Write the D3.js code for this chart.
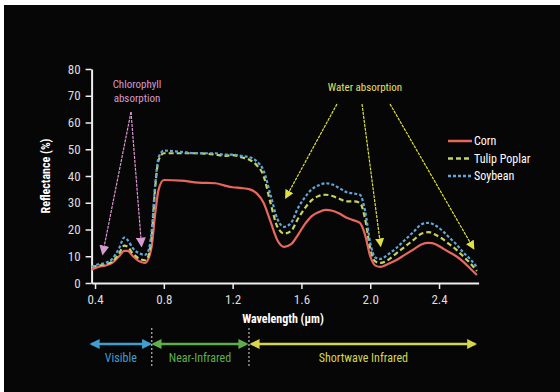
<!DOCTYPE html>
<html>
<head>
<meta charset="utf-8">
<script src="https://cdn.jsdelivr.net/npm/d3@7"></script>
<style>
  body { margin: 0; background: #fff; }
  svg text { font-family: "Liberation Sans Narrow", "Arial Narrow", "Roboto Condensed", "Liberation Sans", sans-serif; }
</style>
</head>
<body>
<svg id="chart" width="560" height="392"></svg>
<script>
// wavelength in µm, reflectance in %
const wavelength = [0.38,0.42,0.46,0.50,0.54,0.57,0.59,0.62,0.66,0.69,0.71,0.73,0.75,0.77,0.80,0.90,1.00,1.10,1.15,1.20,1.25,1.30,1.34,1.38,1.42,1.46,1.50,1.54,1.58,1.62,1.66,1.70,1.74,1.78,1.82,1.86,1.90,1.94,1.97,2.00,2.03,2.06,2.10,2.15,2.20,2.25,2.30,2.34,2.38,2.42,2.46,2.50,2.54,2.58,2.62];
const corn = [5,6,6.5,7.5,10,12,12,10,8,7.5,9,14,26,35,38.5,38.3,37.5,37.3,36.5,35.8,35.5,35,33.5,30,23,16,13.5,14.5,18,22,25,26.5,27.3,27,26,24.5,23.5,22.5,18,10,6.5,6,7,8.5,10.5,12.5,14.5,15,14.5,13,11.5,10,8,5.5,3];
const tulipPoplar = [6,6.5,7,8,11,14,13.5,11,9,8.5,10,18,36,46,48.5,48.5,48.5,48,47.5,47.8,47,46,44,40,30,21,18.5,19.5,24,28,31,32.5,33,32.5,31.5,30.5,30.5,30,24,13,8,7.5,8.5,11,13.5,16,18.5,19,18,16.5,14.5,12.5,10,7.5,4.5];
const soybean = [6,7,7.5,9,13,17,16,13,11,10.5,12,20,37,47,49.5,49,48.5,48.5,48,48,47.5,47,45.5,42,33,24,21,22.5,28,32,35,36.5,37.3,36.8,35.5,34,33.5,33,27,15,9.5,9,10.5,13,16,19,22,22.5,21.5,19.5,17,14.5,11.5,9,6];

const seriesNames = ["Corn", "Tulip Poplar", "Soybean"];
const xTicks = [0.4, 0.8, 1.2, 1.6, 2.0, 2.4];
const yTicks = [0, 10, 20, 30, 40, 50, 60, 70, 80];
const regions = [
  {name: "Visible", from: 0.38, to: 0.72},
  {name: "Near-Infrared", from: 0.74, to: 1.28},
  {name: "Shortwave Infrared", from: 1.31, to: 2.61}
];
const regionBounds = [0.73, 1.295];

const colors = {"Corn": "#e8675f", "Tulip Poplar": "#c5d45e", "Soybean": "#62a6d8"};
const dashes = {"Corn": null, "Tulip Poplar": "5,3", "Soybean": "3,2"};
const regionColors = ["#3f9fcf", "#5fae4a", "#d6d64a"];

const svg = d3.select("#chart");
svg.append("rect").attr("x", 4).attr("y", 5).attr("width", 556).attr("height", 387).attr("fill", "#060606");

const x = d3.scaleLinear().domain([0.38, 2.63]).range([91.6, 478.6]);
const y = d3.scaleLinear().domain([0, 80]).range([283, 69]);

// axes
const gx = svg.append("g").attr("transform", `translate(0,${y(0)})`)
  .call(d3.axisBottom(x).tickValues(xTicks).tickFormat(d3.format(".1f")).tickSize(6).tickSizeOuter(0));
const gy = svg.append("g").attr("transform", `translate(${x(0.38)},0)`)
  .call(d3.axisLeft(y).tickValues(yTicks).tickSize(6).tickSizeOuter(0));
[gx, gy].forEach(g => {
  g.select(".domain").attr("stroke", "#eee").attr("stroke-width", 2);
  g.selectAll(".tick line").attr("stroke", "#eee").attr("stroke-width", 1.5);
  g.selectAll(".tick text").attr("fill", "#ddd").style("font-size", "13px");
});
gx.selectAll(".tick text").attr("dy", "0.9em");
gy.selectAll(".tick text").attr("dx", "-2");

svg.append("text").attr("x", 283).attr("y", 323).attr("text-anchor", "middle")
  .attr("fill", "#fff").style("font-size", "12px").style("font-weight", "bold").text("Wavelength (µm)");
svg.append("text").attr("transform", "translate(50,176) rotate(-90)").attr("text-anchor", "middle")
  .attr("fill", "#fff").style("font-size", "12px").style("font-weight", "bold").text("Reflectance (%)");

// arrowheads
const defs = svg.append("defs");
function marker(id, color, size) {
  defs.append("marker").attr("id", id).attr("viewBox", "0 0 10 10").attr("refX", 8).attr("refY", 5)
    .attr("markerUnits", "userSpaceOnUse")
    .attr("markerWidth", size).attr("markerHeight", size).attr("orient", "auto-start-reverse")
    .append("path").attr("d", "M0,0L10,5L0,10Z").attr("fill", color);
}
marker("pink", "#d89ad0", 10);
marker("yel", "#e0e040", 9);
regionColors.forEach((c, i) => marker("reg" + i, c, 10));

// curves
const lineData = {"Corn": corn, "Tulip Poplar": tulipPoplar, "Soybean": soybean};
const line = d3.line().x(d => x(d[0])).y(d => y(d[1])).curve(d3.curveMonotoneX);
seriesNames.forEach(name => {
  const pts = wavelength.map((w, i) => [w, lineData[name][i]]);
  svg.append("path").datum(pts).attr("d", line).attr("fill", "none")
    .attr("stroke", colors[name]).attr("stroke-width", 2.2)
    .attr("stroke-dasharray", dashes[name]);
});

// annotations
svg.append("text").attr("x", 137).attr("y", 88).attr("text-anchor", "middle").attr("fill", "#d89ad0")
  .style("font-size", "11px").text("Chlorophyll");
svg.append("text").attr("x", 137).attr("y", 102).attr("text-anchor", "middle").attr("fill", "#d89ad0")
  .style("font-size", "11px").text("absorption");
[[0.445, 11], [0.67, 14]].forEach(([w, v]) => {
  svg.append("line").attr("x1", 131).attr("y1", 112).attr("x2", x(w)).attr("y2", y(v))
    .attr("stroke", "#d89ad0").attr("stroke-width", 1.2).attr("stroke-dasharray", "3,1")
    .attr("marker-end", "url(#pink)");
});
svg.append("text").attr("x", 365).attr("y", 91).attr("text-anchor", "middle").attr("fill", "#e0e060")
  .style("font-size", "11px").text("Water absorption");
[[337, 1.51, 32], [362, 2.06, 14], [390, 2.6, 13]].forEach(([sx, w, v]) => {
  svg.append("line").attr("x1", sx).attr("y1", 104).attr("x2", x(w)).attr("y2", y(v))
    .attr("stroke", "#e0e040").attr("stroke-width", 1.2).attr("stroke-dasharray", "3,1")
    .attr("marker-end", "url(#yel)");
});

// legend
const legend = svg.append("g").attr("transform", "translate(448,141)");
seriesNames.forEach((name, i) => {
  const row = legend.append("g").attr("transform", `translate(0,${i * 17.5})`);
  row.append("line").attr("x1", 0).attr("x2", 24).attr("stroke", colors[name]).attr("stroke-width", 2.5)
    .attr("stroke-dasharray", dashes[name]);
  row.append("text").attr("x", 26).attr("y", 4).attr("fill", "#fff").style("font-size", "12px").text(name);
});

// spectral regions
regions.forEach((r, i) => {
  svg.append("line").attr("x1", x(r.from)).attr("x2", x(r.to)).attr("y1", 344).attr("y2", 344)
    .attr("stroke", regionColors[i]).attr("stroke-width", 2.5)
    .attr("marker-start", "url(#reg" + i + ")").attr("marker-end", "url(#reg" + i + ")");
  svg.append("text").attr("x", x((r.from + r.to) / 2)).attr("y", 362).attr("text-anchor", "middle")
    .attr("fill", regionColors[i]).style("font-size", "12px").text(r.name);
});
regionBounds.forEach(w => {
  svg.append("line").attr("x1", x(w)).attr("x2", x(w)).attr("y1", 328).attr("y2", 368)
    .attr("stroke", "#ddd").attr("stroke-width", 1).attr("stroke-dasharray", "2,2");
});
</script>
</body>
</html>
